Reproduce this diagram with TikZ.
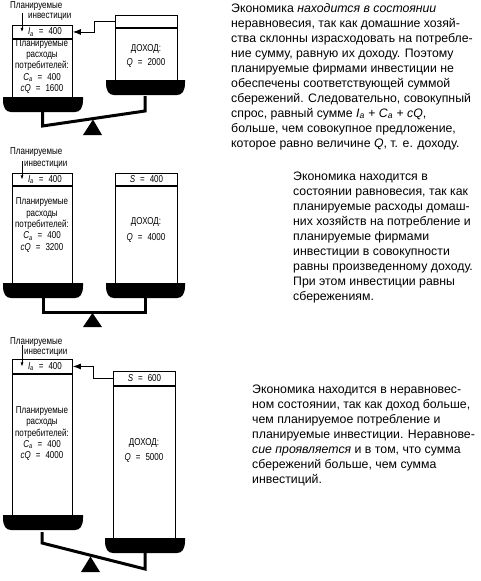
\documentclass[tikz,border=0pt]{standalone}
\usepackage{fontspec}
\setmainfont{Liberation Sans}
\newfontfamily\boxfont{Liberation Sans}[FakeStretch=0.8]
\usetikzlibrary{arrows.meta,positioning}
\newcommand{\sbs}[2]{\textit{#1}\textsubscript{\textit{#2}}}
\newcommand{\eq}{\enskip=\enskip}
% scale pan: left x, right x, top y
\newcommand{\pan}[3]{\fill (#1,#3) -- (#2,#3) -- (#2,#3+3)
  .. controls (#2,#3+11) and (#2-3,#3+15) .. (#2-8,#3+15) -- (#1+8,#3+15)
  .. controls (#1+3,#3+15) and (#1,#3+11) .. (#1,#3+3) -- cycle;}
\tikzset{
  col/.style={draw, line width=0.9pt, minimum width=60pt, inner sep=0pt, anchor=north west,
    font=\boxfont\fontsize{10}{11}\selectfont},
  boxlbl/.style={font=\boxfont\fontsize{10}{11.3}\selectfont, align=center, inner sep=0pt},
  toplbl/.style={font=\boxfont\fontsize{10}{10}\selectfont, anchor=west, inner sep=0pt},
  note/.style={font=\fontsize{12.3}{15}\selectfont, align=left, anchor=north west, inner sep=0pt},
  flow/.style={-{Latex[length=8pt,width=6pt]}, line width=0.8pt},
  pointer/.style={-{Latex[length=4pt,width=3pt]}, line width=0.7pt},
  beam/.style={line width=3pt}
}
\begin{document}
\begin{tikzpicture}[x=1pt,y=-1pt]
  \useasboundingbox (0,0) rectangle (481,581);

  % --- first balance: disequilibrium, I > S
  \node[col, minimum height=13pt] (inv1) at (12,25) {\hspace*{5pt}\sbs{I}{a}\eq400};
  \node[col, minimum height=59pt, below=0pt of inv1] (cons1) {};
  \node[col, minimum width=62pt, minimum height=12pt] (sav1) at (115,15) {};
  \node[col, minimum width=62pt, minimum height=53pt, below=0pt of sav1] (inc1) {};
  \node[boxlbl] (ctxt1) at (42,66.5) {Планируемые\\расходы\\потребителей:\\\sbs{C}{a}\eq400\\\textit{cQ}\eq1600};
  \node[boxlbl] (itxt1) at (146,56) {ДОХОД:\\[2pt]\textit{Q}\eq2000};
  \node[toplbl] (plan1) at (10,6) {Планируемые};
  \node[toplbl] (invl1) at (28,17) {инвестиции};
  \coordinate (p1) at (22,13);
  \draw[pointer] (p1) -- (p1 |- inv1.center);
  \draw[flow] (sav1.west) -- ++(-21,0) |- (inv1.east);
  \pan{3}{83}{97}
  \pan{106}{185}{80}
  \draw[beam] (42.5,112) -- (42.5,126) -- (145,111) -- (145,96);
  \fill (93,119.5) -- (102,135) -- (83,135) -- cycle;

  % --- second balance: equilibrium
  \node[col, minimum height=12pt] (inv2) at (12,173) {\hspace*{5pt}\sbs{I}{a}\eq400};
  \node[col, minimum height=98pt, below=0pt of inv2] (cons2) {};
  \node[col, minimum width=62pt, minimum height=12pt] (sav2) at (115,173) {\textit{S}\eq400};
  \node[col, minimum width=62pt, minimum height=98pt, below=0pt of sav2] (inc2) {};
  \node[boxlbl] (ctxt2) at (42,225) {Планируемые\\расходы\\потребителей:\\\sbs{C}{a}\eq400\\\textit{cQ}\eq3200};
  \node[boxlbl] (itxt2) at (146,230) {ДОХОД:\\[4pt]\textit{Q}\eq4000};
  \node[toplbl] (plan2) at (10,152) {Планируемые};
  \node[toplbl] (invl2) at (24,165) {инвестиции};
  \coordinate (p2) at (22,161);
  \draw[pointer] (p2) -- (p2 |- inv2.center);
  \pan{3}{83}{283}
  \pan{106}{185}{283}
  \draw[beam] (43,298) -- (43,312) -- (145,312) -- (145,298);
  \fill (92.5,313) -- (102,327) -- (83,327) -- cycle;

  % --- third balance: disequilibrium, S > I
  \node[col, minimum height=14pt] (inv3) at (12,359) {\hspace*{5pt}\sbs{I}{a}\eq400};
  \node[col, minimum height=142pt, below=0pt of inv3] (cons3) {};
  \node[col, minimum width=62pt, minimum height=14pt] (sav3) at (113,371) {\textit{S}\eq600};
  \node[col, minimum width=62pt, minimum height=153pt, below=0pt of sav3] (inc3) {};
  \node[boxlbl] (ctxt3) at (42,433.5) {Планируемые\\расходы\\потребителей:\\\sbs{C}{a}\eq400\\\textit{cQ}\eq4000};
  \node[boxlbl] (itxt3) at (144,450.5) {ДОХОД:\\[4pt]\textit{Q}\eq5000};
  \node[toplbl] (plan3) at (10,342) {Планируемые};
  \node[toplbl] (invl3) at (24,353) {инвестиции};
  \coordinate (p3) at (22,345);
  \draw[pointer] (p3) -- (p3 |- inv3.center);
  \draw[flow] (sav3.west) -- ++(-20,0) |- (inv3.east);
  \pan{3}{83}{515}
  \pan{105}{185}{538}
  \draw[beam] (42,532) -- (42,543) -- (145,569) -- (145,553);
  \fill (90.5,556.5) -- (100,572) -- (81,572) -- cycle;

  % --- comments beside the balances
  \node[note] (note1) at (231,3) {Экономика \textit{находится в состоянии}\\
    неравновесия, так как домашние хозяй-\\
    ства склонны израсходовать на потребле-\\
    ние сумму, равную их доходу. Поэтому\\
    планируемые фирмами инвестиции не\\
    обеспечены соответствующей суммой\\
    сбережений. Следовательно, совокупный\\
    спрос, равный сумме \sbs{I}{a} + \sbs{C}{a} + \textit{cQ},\\
    больше, чем совокупное предложение,\\
    которое равно величине \textit{Q}, т. е. доходу.};
  \node[note] (note2) at (293,172) {Экономика находится в\\
    состоянии равновесия, так как\\
    планируемые расходы домаш-\\
    них хозяйств на потребление и\\
    планируемые фирмами\\
    инвестиции в совокупности\\
    равны произведенному доходу.\\
    При этом инвестиции равны\\
    сбережениям.};
  \node[note] (note3) at (252,385) {Экономика находится в неравновес-\\
    ном состоянии, так как доход больше,\\
    чем планируемое потребление и\\
    планируемые инвестиции. Неравнове-\\
    \textit{сие проявляется} и в том, что сумма\\
    сбережений больше, чем сумма\\
    инвестиций.};
\end{tikzpicture}
\end{document}
